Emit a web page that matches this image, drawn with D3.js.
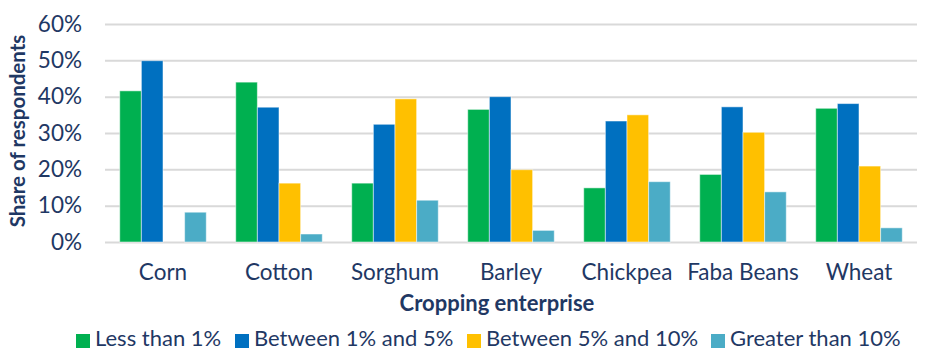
<!DOCTYPE html>
<html>
<head>
<meta charset="utf-8">
<script src="https://cdn.jsdelivr.net/npm/d3@7"></script>
<style>
    body { margin: 0; background: #fff; }
    svg text { font-family: Lato, "Liberation Sans", sans-serif; fill: #1f3864; }
</style>
</head>
<body>
<div id="chart"></div>
<script>
// Chart data
const crops = ['Corn', 'Cotton', 'Sorghum', 'Barley', 'Chickpea', 'Faba Beans', 'Wheat'];
const seriesNames = ['Less than 1%', 'Between 1% and 5%', 'Between 5% and 10%', 'Greater than 10%'];
const lessThan1 = [0.416, 0.440, 0.162, 0.365, 0.149, 0.186, 0.368];
const between1and5 = [0.499, 0.371, 0.324, 0.400, 0.333, 0.372, 0.381];
const between5and10 = [0, 0.162, 0.394, 0.199, 0.350, 0.302, 0.209];
const greaterThan10 = [0.082, 0.022, 0.115, 0.032, 0.166, 0.138, 0.039];
const yTicks = [0, 0.1, 0.2, 0.3, 0.4, 0.5, 0.6];
const colors = ['#00b050', '#0070c0', '#ffc000', '#4bacc6'];

const width = 929;
const height = 350;
const margin = { top: 24, right: 12, bottom: 108, left: 105 };
const fontSize = '22.5px';

const svg = d3.select('#chart')
    .append('svg')
    .attr('width', width)
    .attr('height', height);

// Scales
const x0 = d3.scaleBand()
    .domain(crops)
    .range([margin.left, width - margin.right])
    .paddingInner(0.254)
    .paddingOuter(0.127);

const x1 = d3.scaleBand()
    .domain(seriesNames)
    .range([0, x0.bandwidth()]);

const y = d3.scaleLinear()
    .domain([0, 0.6])
    .range([height - margin.bottom, margin.top]);

// Gridlines + y tick labels
const yAxis = d3.axisLeft(y)
    .tickValues(yTicks)
    .tickFormat(d3.format('.0%'))
    .tickSize(-(width - margin.left - margin.right))
    .tickPadding(23);

svg.append('g')
    .attr('transform', `translate(${margin.left},0)`)
    .call(yAxis)
    .call(g => g.select('.domain').remove())
    .call(g => g.selectAll('.tick line').attr('stroke', '#d9d9d9').attr('stroke-width', 2))
    .call(g => g.selectAll('.tick text')
        .attr('font-size', fontSize)
        .attr('fill', '#1f3864')
        .style('font-family', 'Lato, sans-serif'));

// Bars
const rows = crops.map((crop, i) => ({
    crop,
    values: [lessThan1[i], between1and5[i], between5and10[i], greaterThan10[i]]
}));

const groups = svg.append('g')
    .selectAll('g')
    .data(rows)
    .enter().append('g')
    .attr('transform', d => `translate(${x0(d.crop)},0)`);

groups.selectAll('rect')
    .data(d => d.values.map((v, j) => ({ key: seriesNames[j], value: v, j })))
    .enter().append('rect')
    .filter(d => d.value > 0)
    .attr('x', d => x1(d.key))
    .attr('y', d => y(d.value))
    .attr('width', x1.bandwidth())
    .attr('height', d => y(0) - y(d.value))
    .attr('fill', d => colors[d.j])
    .attr('stroke', '#ffffff')
    .attr('stroke-opacity', 0.5)
    .attr('stroke-width', 1);

// Category labels
svg.append('g')
    .selectAll('text')
    .data(crops)
    .enter().append('text')
    .attr('x', d => x0(d) + x0.bandwidth() / 2)
    .attr('y', 280)
    .attr('text-anchor', 'middle')
    .attr('font-size', fontSize)
    .text(d => d);

// Axis titles
svg.append('text')
    .attr('x', 497)
    .attr('y', 311)
    .attr('text-anchor', 'middle')
    .attr('font-size', '22px')
    .attr('font-weight', 'bold')
    .text('Cropping enterprise');

svg.append('text')
    .attr('transform', 'translate(25,131) rotate(-90)')
    .attr('text-anchor', 'middle')
    .attr('font-size', '20.5px')
    .attr('font-weight', 'bold')
    .text('Share of respondents');

// Legend
const legendX = [76, 235, 467, 711];
const legend = svg.append('g')
    .selectAll('g')
    .data(seriesNames)
    .enter().append('g')
    .attr('transform', (d, i) => `translate(${legendX[i]},0)`);

legend.append('rect')
    .attr('x', 0)
    .attr('y', 334)
    .attr('width', 14)
    .attr('height', 14)
    .attr('fill', (d, i) => colors[i]);

legend.append('text')
    .attr('x', 19)
    .attr('y', 346)
    .attr('font-size', '22px')
    .text(d => d);
</script>
</body>
</html>
